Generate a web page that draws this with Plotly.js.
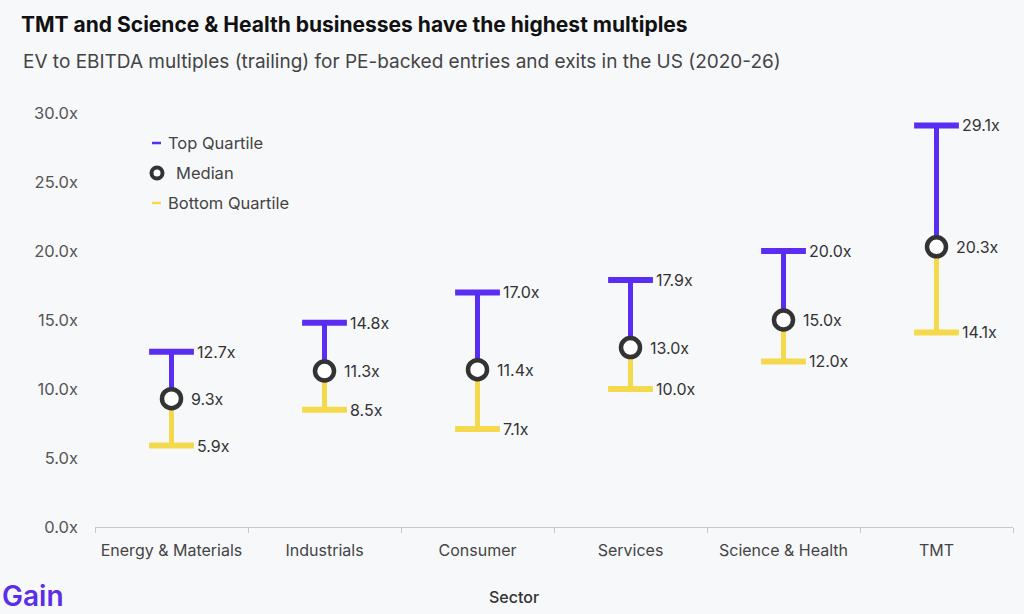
<!DOCTYPE html>
<html>
<head>
<meta charset="utf-8">
<script src="https://cdn.plot.ly/plotly-3.0.1.min.js"></script>
<style>
  html, body { margin: 0; padding: 0; background: #f7f8fa; }
  #chart { width: 1024px; height: 614px; }
</style>
</head>
<body>
<div id="chart"></div>
<script>
// EV/EBITDA multiples by sector
const sectors = ["Energy & Materials", "Industrials", "Consumer", "Services", "Science & Health", "TMT"];
const topQuartile = [12.7, 14.8, 17.0, 17.9, 20.0, 29.1];
const median = [9.3, 11.3, 11.4, 13.0, 15.0, 20.3];
const bottomQuartile = [5.9, 8.5, 7.1, 10.0, 12.0, 14.1];
const yTickVals = [0, 5, 10, 15, 20, 25, 30];

const PURPLE = "#5a2df2";
const YELLOW = "#f5d94c";
const RING = "#333333";
const FONT = "Inter, 'Noto Sans', sans-serif";

// vertical segments: median -> top (purple), median -> bottom (yellow)
function segments(fromVals, toVals) {
  const xs = [], ys = [];
  sectors.forEach((s, i) => {
    xs.push(s, s, null);
    ys.push(fromVals[i], toVals[i], null);
  });
  return { xs, ys };
}
const upSeg = segments(median, topQuartile);
const downSeg = segments(median, bottomQuartile);

const traces = [
  { type: "scatter", mode: "lines", x: upSeg.xs, y: upSeg.ys, connectgaps: false,
    line: { color: PURPLE, width: 5 }, hoverinfo: "skip", showlegend: false },
  { type: "scatter", mode: "lines", x: downSeg.xs, y: downSeg.ys, connectgaps: false,
    line: { color: YELLOW, width: 5 }, hoverinfo: "skip", showlegend: false },
  { type: "scatter", mode: "markers", x: sectors, y: topQuartile, name: "Top Quartile",
    marker: { symbol: "line-ew", size: 32, line: { color: PURPLE, width: 6 } }, showlegend: false },
  { type: "scatter", mode: "markers", x: sectors, y: bottomQuartile, name: "Bottom Quartile",
    marker: { symbol: "line-ew", size: 32, line: { color: YELLOW, width: 6 } }, showlegend: false },
  { type: "scatter", mode: "markers", x: sectors, y: median, name: "Median",
    marker: { symbol: "circle", size: 19, color: "#ffffff", line: { color: RING, width: 4.5 } }, showlegend: false }
];

const fmt = v => v.toFixed(1) + "x";
const annotations = [];
function addLabels(vals, shift) {
  sectors.forEach((s, i) => {
    annotations.push({
      x: s, y: vals[i], xref: "x", yref: "y", text: fmt(vals[i]),
      xanchor: "left", yanchor: "middle", xshift: shift, showarrow: false,
      font: { family: FONT, size: 16, color: "#333333" }
    });
  });
}
addLabels(topQuartile, 23);
addLabels(median, 17);
addLabels(bottomQuartile, 23);

// plot area: left 95, right 1013, top 113, bottom 527
const PX = p => (p - 95) / 918;
const PY = p => (527 - p) / 414;

// legend
const legendItems = [
  { label: "Top Quartile", y: 143, tx: 166 },
  { label: "Median", y: 173, tx: 174 },
  { label: "Bottom Quartile", y: 203, tx: 166 }
];
legendItems.forEach(it => {
  annotations.push({
    x: PX(it.tx), y: PY(it.y), xref: "paper", yref: "paper", text: it.label,
    xanchor: "left", yanchor: "middle", showarrow: false,
    font: { family: FONT, size: 16.5, color: "#444444" }
  });
});

const shapes = [
  { type: "line", xref: "paper", yref: "paper", x0: PX(152), x1: PX(161), y0: PY(143), y1: PY(143),
    line: { color: PURPLE, width: 2.5 } },
  { type: "line", xref: "paper", yref: "paper", x0: PX(152), x1: PX(161), y0: PY(203), y1: PY(203),
    line: { color: YELLOW, width: 2.5 } },
  { type: "circle", xref: "paper", yref: "paper", xsizemode: "pixel", ysizemode: "pixel",
    xanchor: PX(157), yanchor: PY(173), x0: -5.5, x1: 5.5, y0: -5.5, y1: 5.5,
    fillcolor: "#ffffff", line: { color: RING, width: 4 } }
];

// subtitle, axis title, brand mark
annotations.push({
  x: PX(21), y: PY(61), xref: "paper", yref: "paper",
  text: "EV to EBITDA multiples (trailing) for PE-backed entries and exits in the US (2020-26)",
  showarrow: false, xanchor: "left", yanchor: "middle",
  font: { family: FONT, size: 19, color: "#444444" }
});
annotations.push({
  x: PX(514), y: PY(597), xref: "paper", yref: "paper", text: "Sector",
  showarrow: false, xanchor: "center", yanchor: "middle",
  font: { family: FONT, size: 16, color: "#333333", weight: 500 }
});
annotations.push({
  x: PX(1), y: 0, xref: "paper", yref: "paper", yshift: -87, text: "Gain",
  showarrow: false, xanchor: "left", yanchor: "bottom", borderpad: 0,
  font: { family: FONT, size: 28, color: "#5b2ee8", weight: 600 }
});

const layout = {
  width: 1024, height: 614,
  paper_bgcolor: "#f7f8fa", plot_bgcolor: "#f7f8fa",
  margin: { l: 95, r: 11, t: 113, b: 87 },
  showlegend: false,
  title: {
    text: "<b>TMT and Science & Health businesses have the highest multiples</b>",
    x: 21 / 1024, xref: "container", xanchor: "left",
    y: 1 - 25 / 614, yref: "container", yanchor: "middle",
    font: { family: FONT, size: 21, color: "#111111" }
  },
  xaxis: {
    type: "category", categoryorder: "array", categoryarray: sectors,
    range: [-0.5, sectors.length - 0.5],
    showgrid: false, zeroline: false,
    showline: true, linecolor: "#c8c8c8", linewidth: 1,
    ticks: "outside", tickson: "boundaries", ticklen: 5, tickcolor: "#c8c8c8",
    ticklabelstandoff: 9,
    tickfont: { family: FONT, size: 16, color: "#444444" }
  },
  yaxis: {
    range: [0, 30], tickvals: yTickVals, ticktext: yTickVals.map(fmt),
    showgrid: false, zeroline: false, showline: false, ticks: "",
    ticklabelstandoff: 16,
    tickfont: { family: FONT, size: 16.5, color: "#555555" }
  },
  annotations: annotations,
  shapes: shapes,
  font: { family: FONT }
};

Plotly.newPlot("chart", traces, layout, { displayModeBar: false, staticPlot: true });
</script>
</body>
</html>
